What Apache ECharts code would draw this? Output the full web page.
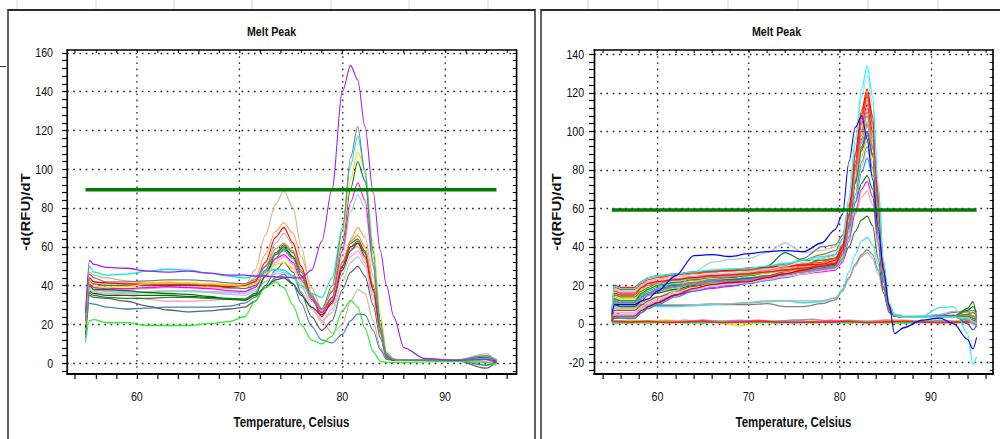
<!DOCTYPE html>
<html>
<head>
<meta charset="utf-8">
<title>Melt Peak</title>
<script src="https://cdn.jsdelivr.net/npm/echarts@6/dist/echarts.min.js"></script>
<style>
html, body { margin: 0; padding: 0; background: #fff; overflow: hidden; }
/* the original screenshot is squeezed horizontally, so draw wide and squeeze */
#main { width: 1220px; height: 439px; transform: scaleX(0.82); transform-origin: 0 0; }
</style>
</head>
<body>
<div id="main"></div>
<script>
var SX = 0.82;
var FONT = '"Liberation Sans", Arial, sans-serif';

function px(x) { return x / SX; }

// ---- axis ticks / labels ----
var xTicks = [54, 56, 58, 60, 62, 64, 66, 68, 70, 72, 74, 76, 78, 80, 82, 84, 86, 88, 90, 92, 94, 96];
var xLabels = [60, 70, 80, 90];
var leftYTicks = [-4, 0, 4, 8, 12, 16, 20, 24, 28, 32, 36, 40, 44, 48, 52, 56, 60, 64, 68, 72, 76, 80,
  84, 88, 92, 96, 100, 104, 108, 112, 116, 120, 124, 128, 132, 136, 140, 144, 148, 152, 156, 160];
var leftYLabels = [0, 20, 40, 60, 80, 100, 120, 140, 160];
var rightYTicks = [-24, -20, -16, -12, -8, -4, 0, 4, 8, 12, 16, 20, 24, 28, 32, 36, 40, 44, 48, 52, 56, 60,
  64, 68, 72, 76, 80, 84, 88, 92, 96, 100, 104, 108, 112, 116, 120, 124, 128, 132, 136, 140];
var rightYLabels = [-20, 0, 20, 40, 60, 80, 100, 120, 140];

// ---- left panel: temperatures and -d(RFU)/dT per well ----
var leftTemps = [55, 55.4, 55.8, 57, 59, 61, 63, 65, 67, 69, 70.5, 71.5, 72.5, 73.5, 74.3, 75.2, 76, 77, 78, 79,
  80, 80.8, 81.5, 82.2, 83, 83.7, 84.3, 85, 86, 88, 91, 94, 95];
var leftPurple = [26, 53, 51, 49.5, 49, 47.5, 47, 47.5, 46.5, 45.5, 45.5, 45, 45, 44.5, 44.5, 44, 44, 48, 63, 90, 140, 153.5, 146, 122, 88, 58, 40, 24, 8, 2.5, 1.5, 2, 1];
var leftSlate = [22, 46, 44, 42, 42, 42.5, 43, 43, 42.5, 41.5, 41, 43, 50, 56, 58, 54, 45, 34, 28, 40, 68, 106, 122, 98, 50, 18, 4, 2, 1.5, 1.5, 1.5, 4, 1];
var leftCyan = [25, 50, 47, 45.5, 46, 47.5, 48.5, 48, 46.5, 45, 44, 45, 47, 48.5, 48, 45, 40, 36, 34, 44, 70, 102, 117, 100, 55, 20, 5, 2, 1.5, 1.5, 1.5, 2.5, 1];
var leftGold = [20, 42, 40, 39, 39.5, 41, 42, 41.5, 41, 40.5, 39.5, 41, 46, 51, 52, 49, 42, 34, 28, 38, 64, 95, 109, 100, 62, 25, 6, 2, 1.5, 1.5, 1.5, 2, 1.5];
var leftGreen = [18, 40, 38, 38, 37.5, 36.5, 36, 35.5, 34.5, 33, 32.5, 35, 45, 56, 60, 55, 45, 34, 28, 37, 62, 90, 104, 94, 58, 22, 5, 2, 1.5, 1.5, 1.5, 3, 0];
var leftMagenta = [19, 41, 39, 38.5, 38.5, 39, 39.5, 39, 38.5, 37.5, 37, 39, 47, 54, 56, 52, 43, 33, 26, 34, 58, 83, 93, 84, 52, 20, 5, 2, 1.5, 1.5, 1.5, 2.5, 1.5];
var leftLavender = [17, 38, 37, 36, 36, 36.5, 37, 37, 36.5, 35.5, 35, 37, 42, 47, 48, 45, 39, 32, 27, 33, 55, 78, 87, 80, 50, 20, 5, 2, 1.5, 1.5, 1.5, 2, 1];
var leftPeach = [24, 47, 45.5, 44, 42.5, 41.5, 41.5, 41, 40.5, 40, 40, 44, 56, 68, 72.5, 67, 55, 39, 28, 30, 48, 64, 70, 65, 45, 20, 5, 2, 1.5, 1.5, 1.5, 4, 2];
var leftRed = [21, 44, 42, 41.5, 41, 40.5, 40, 40, 40, 39.5, 40, 42, 52, 65, 70, 62, 50, 34, 24, 32, 50, 60, 62, 55, 38, 18, 4, 1.5, 1.5, 1.5, 1.5, 2, 1];
var leftTan = [18, 40, 39, 38, 38, 38.5, 39, 39, 39, 38.5, 40, 48, 66, 82, 89, 80, 60, 36, 22, 15.5, 20, 32, 38, 36, 22, 8, 2.5, 1.5, 1.5, 1.5, 1.5, 3, 2];
var leftSilver = [18, 39, 38, 37, 36.5, 37, 37.5, 37.5, 37, 36.5, 37, 40, 50, 62, 67, 61, 49, 35, 27, 33, 50, 59, 60, 54, 37, 16, 4, 1.5, 1.5, 1.5, 1.5, 5, 1];
var leftTeal = [20, 42, 41, 40, 40, 40, 40.5, 40.5, 40, 39, 38.5, 40, 48, 57, 61, 57, 47, 35, 27, 33, 50, 60, 63, 57, 38, 16, 4, 1.5, 1.5, 1.5, 1.5, -1, 1];
var leftForest = [16, 36, 35, 34, 33.5, 33.5, 34, 34, 33.5, 33, 33, 36, 45, 54, 59, 55, 45, 34, 27, 34, 52, 62, 64, 58, 40, 18, 4, 1.5, 1.5, 1.5, 1.5, 2, 1];
var leftPink = [17, 38, 37, 36, 35, 33, 32, 32, 32.5, 33, 33.5, 36, 44, 52, 55, 51, 41, 29, 21, 28, 46, 55, 58, 52, 35, 15, 4, 1.5, 1.5, 1.5, 1.5, 1, 0];
var leftDimGray = [15, 35, 34, 33.5, 32, 29.5, 27.5, 26.5, 27, 28, 29, 32, 40, 48, 52, 47, 36, 24, 17, 22, 38, 47, 50, 45, 30, 13, 3, 1.5, 1.5, 1.5, 1.5, -2.5, 1];
var leftSteel = [13, 31, 30.5, 29, 28, 28.5, 29, 29, 29, 29.5, 31, 34, 39, 44, 46, 41, 31, 19, 12, 10.5, 15, 22, 25.5, 25, 17, 7, 2, 1.5, 1.5, 1.5, 1.5, 1, 0.5];
var leftLime = [11, 22, 22.5, 21, 21, 19.5, 19.5, 19.5, 20.5, 21.5, 24, 32, 39, 42, 39, 30, 20, 12, 10, 14, 27, 32.5, 29, 18, 6, 1, 0.5, 0.5, 0.5, 0.8, 1, 0.5, -1];
var leftDarkGreen = [17, 37, 36, 35, 35, 35, 35, 34.5, 34, 33.5, 33, 35, 39, 43, 44, 41, 35, 29, 25, 31, 48, 58, 62, 57, 38, 17, 4, 1.5, 1.5, 1.5, 1.5, 2.5, 1.5];
var leftOrange = [20, 43, 42, 41, 41, 41, 41.5, 41.5, 41, 40.5, 40, 42, 50, 59, 62, 58, 48, 35, 26, 32, 52, 63, 66, 60, 40, 17, 4, 1.5, 1.5, 1.5, 1.5, 2, 1];
var leftSky = [18, 39, 38, 37.5, 37, 37, 37.5, 37.5, 37, 36.5, 36, 38, 42, 46, 47, 44, 37, 28, 22, 26, 42, 52, 55, 50, 33, 14, 3, 1.5, 1.5, 1.5, 1.5, 3, 1.5];
var leftThreshold = 89.5;

// ---- right panel ----
var rightTemps = [55, 55.3, 56, 57.5, 58.3, 59, 60, 62, 64, 66, 68, 70, 72, 74, 76, 78, 79.5, 80.3, 81, 81.7,
  82.4, 83, 83.6, 84.2, 84.8, 85.4, 86, 87, 89, 91, 92.5, 94, 94.6, 95];
var rightRed = [6, 20, 19, 19, 22, 24, 25, 26, 27, 27.5, 28, 29, 29.5, 30, 30.5, 31, 33, 40, 60, 88, 111, 122, 108, 68, 31, 10, 4.5, 3.5, 3.5, 3.5, 3.5, 2.5, 1, 0];
var rightOrangeRed = [5, 19, 18, 18, 21, 23, 24, 25.5, 26.5, 27, 27.5, 28, 29, 30, 31, 32, 34, 41, 60, 87, 109, 120, 107, 67, 30, 10, 4.5, 3.5, 3.5, 3.5, 3.5, 3, 1.5, 0.5];
var rightCyan = [6, 19.5, 18.5, 18.5, 22, 24, 25, 26, 27, 28, 28.5, 29, 30, 31.5, 33, 35, 36, 44, 65, 96, 122, 134, 118, 74, 33, 11, 4.5, 3.5, 3.5, 3.5, 3.5, 2.5, 1, 0];
var rightPaleBlue = [5, 18, 17, 17, 20, 22, 23, 24.5, 25.5, 26, 26.5, 27, 28.5, 30, 32, 34, 35, 43, 63, 93, 118, 129, 114, 71, 32, 11, 4.5, 3.5, 3.5, 3.5, 3.5, 3, 1.5, 0.5];
var rightSalmon = [5, 18, 17, 17, 20, 21, 22, 23.5, 24.5, 25.5, 26, 27, 28, 29, 30, 31, 32, 39, 57, 83, 105, 116, 102, 64, 29, 10, 4.5, 3.5, 3.5, 3.5, 3.5, 2.5, 0.5, -0.5];
var rightHotPink = [4, 17, 16, 16, 19, 20, 21, 22.5, 23.5, 24.5, 25, 26, 27, 28, 29, 30, 31, 37, 55, 80, 101, 112, 99, 62, 28, 9, 4, 3.5, 3.5, 3.5, 3.5, 2, 0, -1];
var rightCrimson = [4, 16, 15, 15, 19, 21, 22, 23, 24, 25, 25.5, 26, 27, 28, 29, 30, 31.5, 38, 57, 84, 107, 118, 104, 65, 29, 10, 4.5, 3.5, 3.5, 3.5, 3.5, 3, 1, 0];
var rightOrange = [4, 15, 14, 14, 18, 20, 22, 23, 24, 24.5, 25, 25.5, 26.5, 27.5, 28.5, 30, 31, 37, 53, 76, 95, 105, 93, 58, 26, 9, 4, 3.5, 3.5, 3.5, 3.5, 2.5, 1.5, 0.5];
var rightGold = [3, 14, 13, 13, 16, 18, 20, 21.5, 22.5, 23, 23.5, 24, 25, 26, 27, 28.5, 29.5, 35, 49, 70, 87, 95, 84, 53, 24, 8, 4, 3.5, 3.5, 3.5, 3.5, 3, 2, 1];
var rightGreen = [3, 13, 12, 12, 16, 18, 20, 21.5, 23, 24, 24.5, 25, 26.5, 28, 29, 30.5, 31.5, 37, 52, 73, 91, 100, 88, 55, 25, 8, 4, 3.5, 3.5, 3.5, 3.5, 4, 3, 2];
var rightSeaTeal = [3, 13, 12, 12, 15, 17, 19, 20.5, 21.5, 22.5, 23, 24, 25, 26, 27, 28.5, 29.5, 34, 48, 67, 84, 92, 81, 51, 23, 8, 4, 3.5, 3.5, 3.5, 3.5, 2.5, 1, 0];
var rightViolet = [3, 12, 11, 11, 14, 16, 18, 19.5, 21, 22, 22.5, 23, 24.5, 26, 27.5, 29.5, 31, 37, 52, 75, 94, 103, 91, 57, 25, 8, 4, 3.5, 3.5, 3.5, 3.5, 3, 1.5, 0.5];
var rightGray = [3, 11, 10, 10, 13, 15, 17, 19, 20.5, 21.5, 22, 22.5, 24, 25.5, 27, 28.5, 30, 36, 53, 78, 98, 108, 95, 60, 27, 9, 4, 3.5, 3.5, 3.5, 3.5, 4.5, 4, 3];
var rightDarkGreen = [2, 10, 9, 9, 12, 15, 16, 18, 20, 22, 24, 25.5, 30, 37, 33, 33, 34, 39, 50, 63, 73, 77, 70, 46, 22, 8, 4, 3.5, 3.5, 3.5, 4, 7, 9, 6];
var rightMagenta = [1.5, 6, 5, 5, 8, 10, 12, 15, 17, 18.5, 19.5, 21, 23, 24.5, 26, 27, 28, 32, 43, 58, 70, 74, 66, 42, 19, 7, 4, 3.5, 3.5, 3.5, 3.5, 2, 0.5, -1];
var rightTan = [2, 8, 8, 8, 11, 13, 14, 16, 18, 20, 21, 22, 24, 26, 28, 31, 33, 37, 45, 57, 66, 69, 62, 40, 19, 7, 4, 3.5, 3.5, 3.5, 3.5, 3, 2, 1];
var rightSienna = [2, 7, 7, 7, 10, 12, 14, 17, 19.5, 21.5, 22.5, 23.5, 25, 27, 30, 34, 36, 41, 55, 74, 90, 98, 87, 55, 25, 8, 4, 3.5, 3.5, 3.5, 4, 5, 4, 3];
var rightPink = [2, 6, 6, 6, 9, 11, 13, 16, 18, 19.5, 20.5, 21.5, 23, 24.5, 26, 27.5, 28.5, 33, 46, 65, 82, 90, 80, 50, 23, 8, 4, 3.5, 3.5, 3.5, 3.5, 2, 0, -2];
var rightRed2 = [1.5, 4, 4, 4, 7, 9, 11, 15, 18.5, 20.5, 21.5, 22, 24, 26, 28, 30, 31, 38, 56, 82, 104, 114, 100, 63, 28, 9, 4, 3.5, 3.5, 3.5, 3.5, 3, 2, 1];
var rightDodger = [1.5, 3.5, 3, 3, 6, 8, 10, 14, 17, 19, 20, 21, 22.5, 24, 26, 28, 29, 33, 45, 63, 79, 86, 77, 48, 22, 8, 4, 3.5, 3.5, 3.5, 3.5, 2.5, 1.5, 0];
var rightSteelBump = [2, 5, 5, 5, 8, 10, 12, 17, 27, 32, 33.5, 34, 37, 42, 37, 38, 40, 46, 60, 80, 96, 104, 92, 58, 26, 9, 4, 3.5, 3.5, 3.5, 3.5, 3, 2, 1];
var rightSeaGreen = [1.5, 3, 3, 3, 6, 9, 11, 15, 18, 20, 21.5, 23, 24.5, 26, 27.5, 29, 30, 33, 40, 48, 54, 56, 51, 34, 16, 6, 4, 3.5, 3.5, 3.5, 4, 8, 11.5, 3];
var rightGrayLow = [2, 10, 10, 10, 10, 10, 9.5, 9.5, 9.5, 10, 10, 10, 10.5, 9, 9, 10.5, 12.5, 17, 24, 31, 36, 38.5, 36, 28, 18, 10, 5, 3.5, 3.5, 4.5, 6, 6.5, 4, 2];
var rightCyanLow = [2, 9, 9, 9, 9, 9, 9, 9, 9.5, 10, 10.5, 11, 12, 12, 11, 11.5, 13.5, 18, 27, 36, 43, 45, 41, 31, 19, 10, 5, 4, 4, 8.5, 9, -5, -21, -17];
var rightSilverLow = [2, 9, 9, 9, 9.5, 9.5, 10, 10, 10, 10.5, 10.5, 11, 11.5, 12, 12, 12, 13.5, 17, 23, 30, 35, 37, 34, 26, 16, 9, 4.5, 3.5, 4, 5, 6.5, 6, 3, 1];
var rightBlue = [5, 10, 10, 10, 12, 13, 17, 25, 35.5, 36, 35, 36.5, 37.5, 38, 37.5, 42, 49, 57, 84, 102, 108, 96, 75, 50, 28, 10, -5, -2, 2, 3, 0, -8, -13, -7];
var rightRoyal = [3, 12, 11, 11, 14, 16, 18, 20, 21, 22, 23, 23.5, 24.5, 25.5, 27, 29, 30.5, 36, 51, 73, 92, 100, 88, 56, 25, 8, 4, 3.5, 3.5, 4, 4.5, 0, -3, -1];
var rightOlive = [4, 15, 14, 14, 17, 19, 21, 23, 24.5, 25.5, 26, 26.5, 28, 29.5, 31, 33, 34, 40, 57, 81, 100, 110, 97, 61, 27, 9, 4, 3.5, 3.5, 3.5, 3.5, 5, 6, 4];
var rightChocolate = [5, 17, 16, 16, 20, 22, 23, 24.5, 26, 27, 27.5, 28, 29.5, 31, 33, 36, 38, 44, 62, 89, 109, 119, 105, 66, 30, 10, 4.5, 3.5, 3.5, 3.5, 3.5, 2, 1, -0.5];
var rightTaupe = [3, 11, 10, 10, 13, 15, 17, 19.5, 21.5, 23, 24.5, 26, 28, 30, 34, 40, 41, 46, 60, 80, 96, 104, 92, 58, 26, 9, 4, 3.5, 3.5, 3.5, 4, 6.5, 7, 5];

// flat (no product) wells near zero
var flatTemps = [55, 57, 59, 61, 63, 65, 67, 69, 71, 73, 75, 77, 79, 81, 83, 85, 87, 89, 91, 93, 95];
var flatRed = [1.5, 1, 1.5, 0.5, 1, 1.5, 0.5, 1, 1.5, 1, 0.5, 1, 1, 1.5, 0.5, 1, 1.5, 1, 0.5, 1, 1];
var flatGreen = [0.5, 0.5, 1, 1, 0.5, 0.5, 1, 0.5, 1, 0.5, 1, 0.5, 1, 0.5, 1, 0.5, 0.5, 1, 1, 0.5, 1];
var flatYellow = [1, 1.5, 1.5, 2, 1.5, 1, 0.5, -1, 0.5, 1, 1.5, 1, 0.5, 1, 1.5, 1, 1, 1.5, 1, 1.5, 1];
var flatMagenta = [1, 0.5, 1, 1.5, 1, 2, 1, 1.5, 2, 1, 1.5, 1, 2, 1.5, 1, 1.5, 1, 1, 1.5, 1, 1.5];
var flatBlue = [0.5, 1, 0.5, 1, 2, 1, 1.5, 1, 0.5, 1.5, 2, 1, 0.5, 1, 0.5, 1, 0.5, 0.5, 1, 1, 0.5];
var flatGray = [1.5, 2, 1.5, 1.5, 1.5, 2, 1.5, 2, 1.5, 1.5, 2, 2.5, 1.5, 2, 1.5, 2, 2, 1.5, 2, 1.5, 2];
var flatOrange = [1, 1, 0.5, 1, 1, 0.5, 1, 1, 1, 0.5, 1, 1.5, 1, 0.5, 1, 2, 1.5, 1, 0.5, 1, 0.5];
var flatLime = [1, 1.5, 1, 0.5, 1, 1, 1.5, 1, 1, 1.5, 1, 0.5, 1, 1.5, 1, 0.5, 1, 1.5, 1, 1.5, 1];
var rightThreshold = 59.2;

var leftWells = [
  ['#f4a460', leftPeach], ['#d2b48c', leftTan], ['#b8b8b8', leftSilver], ['#a4c8e0', leftSky],
  ['#4682b4', leftSteel], ['#606060', leftDimGray], ['#ffa0c8', leftPink], ['#1e5e1e', leftDarkGreen],
  ['#2f7f7f', leftTeal], ['#228b22', leftForest], ['#ff7f24', leftOrange], ['#ff0000', leftRed],
  ['#b0c4de', leftLavender], ['#ff00ff', leftMagenta], ['#008000', leftGreen], ['#ffd700', leftGold],
  ['#00e5ee', leftCyan], ['#708090', leftSlate], ['#22ee22', leftLime], ['#a020f0', leftPurple]
];
var rightWells = [
  ['#7f7f7f', rightGrayLow], ['#33e6e6', rightCyanLow], ['#b0b0b0', rightSilverLow],
  ['#1a7a1a', rightSeaGreen], ['#d2b48c', rightTan], ['#ff00ff', rightMagenta], ['#008000', rightDarkGreen],
  ['#1e90ff', rightDodger], ['#ffaacc', rightPink], ['#e6c800', rightGold], ['#20b2aa', rightSeaTeal],
  ['#a0522d', rightSienna], ['#00b000', rightGreen], ['#3050e0', rightRoyal], ['#9370db', rightViolet],
  ['#b4c8dc', rightSteelBump], ['#8b7d6b', rightTaupe], ['#ffa500', rightOrange], ['#909090', rightGray],
  ['#6b8e23', rightOlive], ['#ff69b4', rightHotPink], ['#e00000', rightRed2], ['#fa8072', rightSalmon],
  ['#dd2222', rightCrimson], ['#d2691e', rightChocolate], ['#ff4500', rightOrangeRed], ['#ff0000', rightRed],
  ['#c6cde8', rightPaleBlue], ['#00ffff', rightCyan], ['#0000ff', rightBlue]
];
var flatWells = [
  ['#a0a0a0', flatGray], ['#40a0ff', flatBlue], ['#90ee40', flatLime], ['#ff9900', flatOrange],
  ['#f0d000', flatYellow], ['#ff40ff', flatMagenta], ['#20d020', flatGreen], ['#ff2020', flatRed]
];

function pairs(xs, ys) {
  return xs.map(function (x, i) { return [x, ys[i]]; });
}

function curve(color, xs, ys, axis, smooth) {
  return {
    type: 'line',
    xAxisIndex: axis,
    yAxisIndex: axis,
    data: pairs(xs, ys),
    symbol: 'none',
    smooth: smooth,
    smoothMonotone: 'x',
    lineStyle: { color: color, width: 1.3 },
    itemStyle: { color: color },
    silent: true
  };
}

function threshold(value, axis) {
  return {
    type: 'line',
    xAxisIndex: axis,
    yAxisIndex: axis,
    data: [[55, value], [95, value]],
    symbol: 'none',
    lineStyle: { color: '#047a04', width: 3.5 },
    silent: true,
    z: 5
  };
}

var dots = { color: '#222', width: 1.4 };

function xAxes(grid, min, max) {
  return [
    {
      gridIndex: grid, type: 'value', position: 'bottom', min: min, max: max,
      axisLine: { show: true, onZero: false, lineStyle: { color: '#000', width: 1.8 } },
      axisTick: { show: true, customValues: xTicks, length: 5, lineStyle: { color: '#000', width: 1.4 } },
      axisLabel: { customValues: xLabels, fontFamily: FONT, fontSize: 13, color: '#111', margin: 16 },
      splitLine: { show: false },
      name: 'Temperature, Celsius', nameLocation: 'middle', nameGap: 41,
      nameTextStyle: { fontFamily: FONT, fontSize: 14, fontWeight: 'bold', color: '#111' }
    },
    {
      gridIndex: grid, type: 'value', position: 'bottom', min: min, max: max,
      axisLine: { show: false }, axisTick: { show: false, customValues: xLabels }, axisLabel: { show: false },
      splitLine: { show: true, lineStyle: { color: dots.color, width: 1.6, type: [1.6, 4.6] } }
    },
    {
      gridIndex: grid, type: 'value', position: 'top', min: min, max: max,
      axisLine: { show: true, onZero: false, lineStyle: { color: '#000', width: 1.5 } },
      axisTick: { show: true, inside: true, customValues: xTicks, length: 3, lineStyle: { color: '#000', width: 1.3 } },
      axisLabel: { show: false }, splitLine: { show: false }
    }
  ];
}

function yAxes(grid, min, max, ticks, labels, labelMargin, nameGap) {
  return [
    {
      gridIndex: grid, type: 'value', position: 'left', min: min, max: max,
      axisLine: { show: true, onZero: false, lineStyle: { color: '#000', width: 2 } },
      axisTick: { show: true, customValues: ticks, length: 6, lineStyle: { color: '#000', width: 1.2 } },
      axisLabel: { customValues: labels, fontFamily: FONT, fontSize: 13, color: '#111', margin: labelMargin },
      splitLine: { show: false },
      name: '-d(RFU)/dT', nameLocation: 'middle', nameGap: nameGap,
      nameTextStyle: { fontFamily: FONT, fontSize: 15, fontWeight: 'bold', color: '#111' }
    },
    {
      gridIndex: grid, type: 'value', position: 'left', min: min, max: max,
      axisLine: { show: false }, axisTick: { show: false, customValues: labels }, axisLabel: { show: false },
      splitLine: { show: true, lineStyle: { color: dots.color, width: dots.width, type: [2, 5.6] } }
    },
    {
      gridIndex: grid, type: 'value', position: 'right', min: min, max: max,
      axisLine: { show: true, onZero: false, lineStyle: { color: '#000', width: 2 } },
      axisTick: { show: true, inside: true, customValues: ticks, length: 4, lineStyle: { color: '#000' } },
      axisLabel: { show: false }, splitLine: { show: false }
    }
  ];
}

var series = [];
leftWells.forEach(function (w) { series.push(curve(w[0], leftTemps, w[1], 0, 0.3)); });
series.push(threshold(leftThreshold, 0));
flatWells.forEach(function (w) { series.push(curve(w[0], flatTemps, w[1], 3, false)); });
rightWells.forEach(function (w) { series.push(curve(w[0], rightTemps, w[1], 3, 0.3)); });
series.push(threshold(rightThreshold, 3));

// faint spreadsheet cells behind the two chart objects
var sheetLines = [17, 96, 174, 252, 331, 409, 488, 588, 658, 728, 798, 868, 938].map(function (x) {
  return { type: 'line', shape: { x1: px(x), y1: 0, x2: px(x), y2: 9 }, style: { stroke: '#d6d6d6', lineWidth: 1.2 }, z: -20 };
});

var chart = echarts.init(document.getElementById('main'), null, { renderer: 'svg' });
chart.setOption({
  backgroundColor: '#fff',
  animation: false,
  title: [
    { text: 'Melt Peak', left: px(271.5), top: 25, padding: 0, textAlign: 'center',
      textStyle: { fontFamily: FONT, fontSize: 13, fontWeight: 'bold', color: '#111' } },
    { text: 'Melt Peak', left: px(776.5), top: 25, padding: 0, textAlign: 'center',
      textStyle: { fontFamily: FONT, fontSize: 13, fontWeight: 'bold', color: '#111' } }
  ],
  graphic: {
    elements: sheetLines.concat([
      { type: 'line', shape: { x1: 0, y1: 66.5, x2: px(6), y2: 66.5 }, style: { stroke: '#222', lineWidth: 1 }, z: -20 },
      { type: 'rect', shape: { x: px(8), y: 10, width: px(527), height: 440 },
        style: { fill: '#fff', stroke: '#2a2a2a', lineWidth: 1.8 }, z: -10 },
      { type: 'rect', shape: { x: px(541), y: 10, width: px(472), height: 440 },
        style: { fill: '#fff', stroke: '#2a2a2a', lineWidth: 1.8 }, z: -10 }
    ])
  },
  grid: [
    { left: px(67), top: 50, width: px(449), height: 324 },
    { left: px(594), top: 50, width: px(399), height: 324 }
  ],
  xAxis: xAxes(0, 53.2, 96.9).concat(xAxes(1, 53.05, 96.8)),
  yAxis: yAxes(0, -5.5, 161.5, leftYTicks, leftYLabels, 17, 39)
    .concat(yAxes(1, -26, 142.2, rightYTicks, rightYLabels, 12, 34)),
  series: series
});
</script>
</body>
</html>
